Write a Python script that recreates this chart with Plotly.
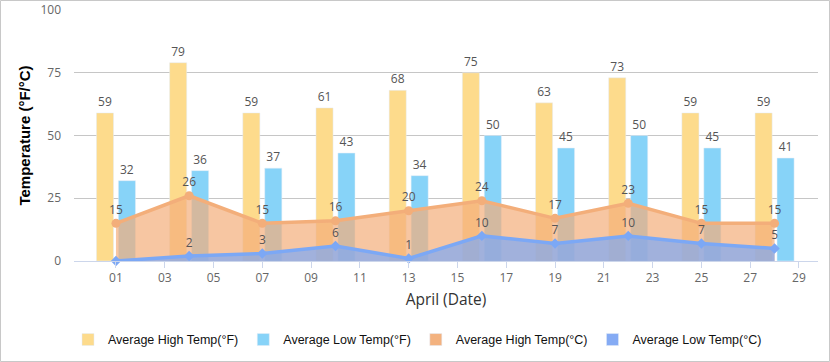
import plotly.graph_objects as go

# ---- data ----
days = [1, 4, 7, 10, 13, 16, 19, 22, 25, 28]
high_f = [59, 79, 59, 61, 68, 75, 63, 73, 59, 59]
low_f = [32, 36, 37, 43, 34, 50, 45, 50, 45, 41]
high_c = [15, 26, 15, 16, 20, 24, 17, 23, 15, 15]
low_c = [0, 2, 3, 6, 1, 10, 7, 10, 7, 5]
low_c_labels = ["", "2", "3", "6", "1", "10", "7", "10", "7", "5"]
tick_vals = [1, 3, 5, 7, 9, 11, 13, 15, 17, 19, 21, 23, 25, 27, 29]
tick_text = ["01", "03", "05", "07", "09", "11", "13", "15", "17", "19",
             "21", "23", "25", "27", "29"]
y_ticks = [0, 25, 50, 75, 100]

names = ["Average High Temp(°F)", "Average Low Temp(°F)",
         "Average High Temp(°C)", "Average Low Temp(°C)"]

C_HF = "#FDDB8C"
C_LF = "#87D3F8"
C_HC = "rgb(243,174,122)"
C_LC = "rgb(124,168,245)"
LABEL_FONT = dict(family="Open Sans", size=12, color="#555555")

fig = go.Figure()

fig.add_trace(go.Bar(
    x=days, y=high_f, name=names[0], marker_color=C_HF, width=0.7, offset=-0.8,
    text=[str(v) for v in high_f], textposition="outside", textfont=LABEL_FONT,
    constraintext="none", cliponaxis=False))
fig.add_trace(go.Bar(
    x=days, y=low_f, name=names[1], marker_color=C_LF, width=0.7, offset=0.1,
    text=[str(v) for v in low_f], textposition="outside", textfont=LABEL_FONT,
    constraintext="none", cliponaxis=False))

fig.add_trace(go.Scatter(
    x=days, y=high_c, name=names[2], mode="lines+markers+text",
    line=dict(color=C_HC, width=3.5), marker=dict(color=C_HC, size=9, symbol="circle"),
    fill="tozeroy", fillcolor="rgba(243,174,122,0.7)",
    text=[str(v) for v in high_c], textposition="top center", textfont=LABEL_FONT,
    showlegend=False, cliponaxis=False))
fig.add_trace(go.Scatter(
    x=days, y=low_c, name=names[3], mode="lines+markers+text",
    line=dict(color=C_LC, width=3.5), marker=dict(color=C_LC, size=8, symbol="diamond"),
    fill="tozeroy", fillcolor="rgba(124,168,245,0.7)",
    text=low_c_labels, textposition="top center", textfont=LABEL_FONT,
    showlegend=False, cliponaxis=False))

# legend-only entries with square swatches for the area series
fig.add_trace(go.Bar(x=[None], y=[None], name=names[2], marker_color="#F3B27F"))
fig.add_trace(go.Bar(x=[None], y=[None], name=names[3], marker_color="#85ABF4"))

fig.update_layout(
    width=830, height=362,
    margin=dict(l=74, r=12, t=10, b=101, autoexpand=False),
    paper_bgcolor="white", plot_bgcolor="white",
    barmode="overlay",
    font=dict(family="Open Sans", size=12, color="#666666"),
    legend=dict(
        orientation="h", xref="container", yref="container",
        x=0.503, xanchor="center", y=0.061, yanchor="middle",
        font=dict(family="Liberation Sans", size=12.5, color="#111111"),
        itemclick=False,
    ),
    xaxis=dict(
        range=[-0.72, 29.78], tickmode="array", tickvals=tick_vals, ticktext=tick_text,
        showgrid=False, zeroline=False, automargin=False,
        showline=True, linecolor="#ccd6eb", linewidth=1,
        ticks="outside", ticklen=6, tickcolor="#ccd6eb",
        tickfont=dict(family="Open Sans", size=12, color="#666666"),
        title=dict(text="April (Date)", font=dict(family="Open Sans", size=15.5, color="#333333"),
                   standoff=8),
    ),
    yaxis=dict(
        range=[0, 100], tickmode="array", tickvals=y_ticks,
        showgrid=True, gridcolor="#c6c6c6", gridwidth=1, zeroline=False, automargin=False,
        showline=False, ticks="", ticklabelstandoff=12,
        tickfont=dict(family="Open Sans", size=12, color="#666666"),
        title=dict(text="Temperature (°F/°C)",
                   font=dict(family="Liberation Sans", size=15, color="#000000", weight="bold"),
                   standoff=6),
    ),
    shapes=[dict(type="rect", xref="paper", yref="paper",
                 x0=-0.0988, x1=1.0155, y0=-0.4004, y1=1.0378,
                 line=dict(color="#c8c8c8", width=1), layer="above")],
)

fig.write_html("out.html", config={"displayModeBar": False},
               post_script="document.body.style.margin='0';")
